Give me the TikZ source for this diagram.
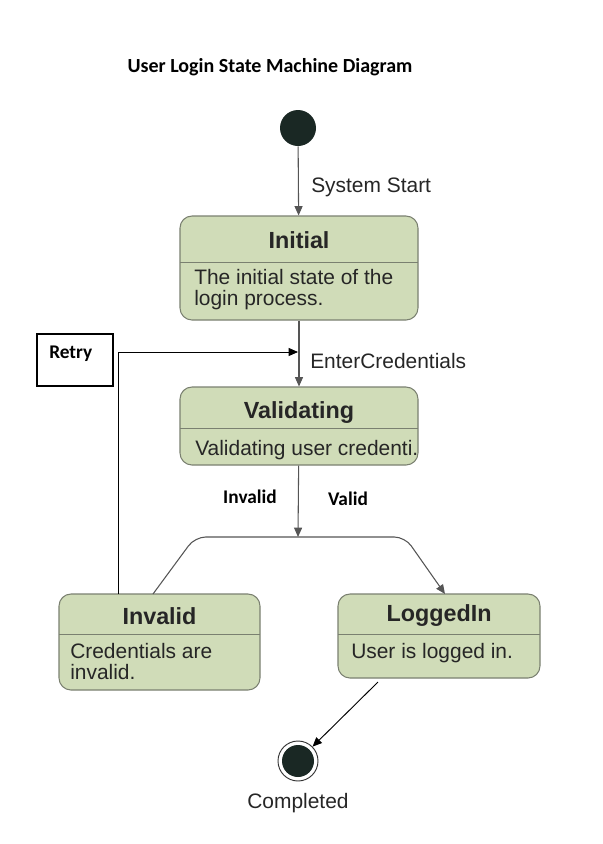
\documentclass[tikz,border=0pt]{standalone}
\usepackage{fontspec}
\setmainfont{Liberation Sans}
\newfontfamily\calib{Carlito}
\usetikzlibrary{arrows.meta,positioning,calc}
\definecolor{stategreen}{HTML}{D0DCB8}
\definecolor{stateedge}{HTML}{7A8070}
\definecolor{dotdark}{HTML}{1A2824}
\definecolor{arrowgray}{HTML}{555555}

\begin{document}
\begin{tikzpicture}[x=0.75pt,y=-0.75pt,
  state/.style={draw=stateedge,line width=0.8pt,rounded corners=9pt,fill=stategreen,inner sep=0pt},
  stitle/.style={font=\fontsize{17.5}{20}\selectfont\bfseries,text=black!85},
  sdesc/.style={font=\fontsize{15.7}{16}\selectfont,text=black!85,align=left,anchor=north west,inner sep=0pt},
  lab/.style={font=\fontsize{15.7}{19}\selectfont,text=black!85,anchor=west,inner sep=0pt},
  blab/.style={font=\calib\fontsize{14.5}{17}\selectfont\bfseries,inner sep=0pt},
  trans/.style={draw=arrowgray,line width=0.8pt,-{Triangle[length=7pt,width=6pt]}},
  >={Triangle[length=7pt,width=6pt]}]
  \useasboundingbox (0,0) rectangle (603,844);
  \node[blab,font=\calib\fontsize{15}{18}\selectfont\bfseries] (title) at (270,67) {User Login State Machine Diagram};
  % start
  \node[circle,fill=dotdark,minimum size=27pt,inner sep=0pt] (start) at (298,128) {};
  % states
  \node[state,minimum width=178.5pt,minimum height=78pt] (ini) at (299,268) {};
  \draw[stateedge,line width=0.6pt] (180,262) -- (418,262);
  \node[stitle] (initt) at (299,240) {Initial};
  \node[sdesc] (inid) at (194,269) {The initial state of the\\login process.};
  \node[state,minimum width=178.5pt,minimum height=58.5pt] (val) at (299,426) {};
  \draw[stateedge,line width=0.6pt] (180,428) -- (418,428);
  \node[stitle] (valt) at (299,413) {Validating};
  \node[sdesc] (vald) at (195,440) {Validating user credenti.};
  \node[state,minimum width=150.75pt,minimum height=72pt] (inv) at (159.5,642) {};
  \draw[stateedge,line width=0.6pt] (59,634) -- (260,634);
  \node[stitle] (invt) at (159.5,616) {Invalid};
  \node[sdesc] (invd) at (70,643) {Credentials are\\invalid.};
  \node[state,minimum width=151.5pt,minimum height=63pt] (log) at (439,636) {};
  \draw[stateedge,line width=0.6pt] (338,634) -- (540,634);
  \node[stitle] (logt) at (439,616) {LoggedIn};
  \node[sdesc] (logd) at (351,643) {User is logged in.};
  % end
  \node[circle,draw=black!80,line width=0.7pt,fill=white,minimum size=30pt,inner sep=0pt] (fin) at (298,761) {};
  \node[circle,fill=dotdark,minimum size=24pt,inner sep=0pt] at (fin) {};
  \node[font=\fontsize{15.7}{19}\selectfont,text=black!85] (done) at (298,803) {Completed};
  % retry box
  \node[draw=black,line width=0.8pt,minimum width=57pt,minimum height=39pt,inner sep=0pt] (retry) at (75,360) {};
  \node[blab,anchor=west] (retryt) at (49,354) {Retry};
  % transitions
  \draw[trans] (start) -- (ini);
  \node[lab] (ss) at (311,187) {System Start};
  \draw[trans] (ini) -- (val);
  \node[lab] (ec) at (310,361) {EnterCredentials};
  \coordinate (back) at (298,352);
  \draw[black,line width=0.6pt,->] (118,594) |- (back);
  \coordinate (bar) at (298,537);
  \draw[trans] (val) -- (bar);
  \node[blab] (invl) at (250,497) {Invalid};
  \node[blab] (vl) at (348,499) {Valid};
  \draw[trans,rounded corners=8pt] (153,594) -- (195,537) -- (405,537) -- (445,594);
  \draw[black,line width=0.7pt,->] (378,682) -- (fin);
\end{tikzpicture}
\end{document}
